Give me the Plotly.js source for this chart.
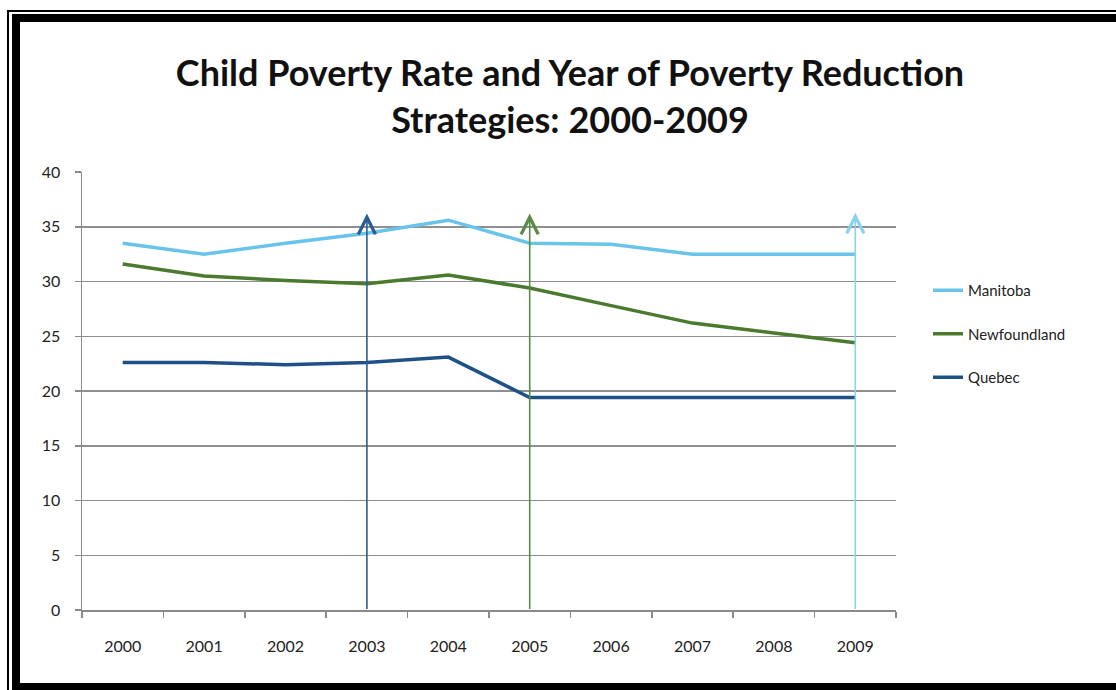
<!DOCTYPE html>
<html>
<head>
<meta charset="utf-8">
<script src="https://cdn.plot.ly/plotly-3.0.1.min.js"></script>
<style>
  html, body { margin: 0; padding: 0; background: #fff; overflow: hidden; }
  #wrap { position: relative; width: 1116px; height: 690px; }
  #chart { position: absolute; left: 0; top: 0; width: 1116px; height: 690px; }
  .frame { position: absolute; pointer-events: none; box-sizing: border-box; }
  #thin { left: 7px; top: 10px; width: 1200px; height: 800px; border-left: 2px solid #000; border-top: 2px solid #000; }
  #thick { left: 12px; top: 14px; width: 1200px; height: 676px; border-left: 8px solid #000; border-top: 8px solid #000; border-bottom: 7px solid #000; }
</style>
</head>
<body>
<div id="wrap">
  <div id="chart"></div>
  <div id="thin" class="frame"></div>
  <div id="thick" class="frame"></div>
</div>
<script>
// ---- data ----
const years = ['2000','2001','2002','2003','2004','2005','2006','2007','2008','2009'];
const manitoba     = [33.5, 32.5, 33.5, 34.4, 35.6, 33.5, 33.4, 32.5, 32.5, 32.5];
const newfoundland = [31.6, 30.5, 30.1, 29.8, 30.6, 29.4, 27.8, 26.2, 25.3, 24.4];
const quebec       = [22.6, 22.6, 22.4, 22.6, 23.1, 19.4, 19.4, 19.4, 19.4, 19.4];
const seriesNames  = ['Manitoba', 'Newfoundland', 'Quebec'];
const strategyYears = ['2003', '2005', '2009'];   // Quebec, Newfoundland, Manitoba
const arrowTop = [36.2, 36.2, 36.3];
const arrowBase = 0;
const yTicks = [0, 5, 10, 15, 20, 25, 30, 35, 40];

const colors = { Manitoba: '#68c4e8', Newfoundland: '#4a7a2e', Quebec: '#1f5188' };
const arrowColors = ['#2c5e92', '#5a8a47', '#8ad2ef'];

const seriesVals = [manitoba, newfoundland, quebec];
const traces = seriesNames.map((n, i) => ({
  type: 'scatter', mode: 'lines', name: n,
  x: years, y: seriesVals[i],
  line: { color: colors[n], width: 3.5 },
  legendgroup: n
}));

const annotations = strategyYears.map((yr, i) => {
  const idx = years.indexOf(yr);
  return {
    x: idx, y: arrowTop[i], ax: idx, ay: arrowBase,
    xref: 'x', yref: 'y', axref: 'x', ayref: 'y',
    text: ' ', font: { size: 1 }, borderpad: 0,
    showarrow: true,
    arrowhead: 5, arrowsize: 2.1, arrowwidth: 1.6,
    arrowcolor: arrowColors[i], standoff: 0, startstandoff: 0
  };
});

const axisFont = { family: 'Lato, "Open Sans", sans-serif', size: 16, color: '#222' };

const layout = {
  width: 1116, height: 690,
  paper_bgcolor: '#fff', plot_bgcolor: '#fff',
  margin: { l: 82, r: 220, t: 172, b: 80 },
  title: {
    text: '<b>Child Poverty Rate and Year of Poverty Reduction<br>Strategies: 2000-2009</b>',
    font: { family: 'Lato, "Open Sans", sans-serif', size: 36, color: '#111' },
    x: 570 / 1116, xanchor: 'center', xref: 'container',
    y: 1 - 86 / 690, yanchor: 'top', yref: 'container'
  },
  xaxis: {
    type: 'category', range: [-0.5, 9.5],
    tickson: 'boundaries', ticks: 'outside', ticklen: 6, tickcolor: '#8a8a8a', tickwidth: 1.5,
    showline: true, linecolor: '#8a8a8a', linewidth: 1.5,
    showgrid: false, zeroline: false,
    tickfont: axisFont, ticklabelstandoff: 21, fixedrange: true
  },
  yaxis: {
    range: [0, 40], tickvals: yTicks,
    ticks: 'outside', ticklen: 6, tickcolor: '#8a8a8a', tickwidth: 1.5,
    showline: true, linecolor: '#8a8a8a', linewidth: 1.5,
    showgrid: true, gridcolor: '#8f8f8f', gridwidth: 1.5,
    zeroline: false, tickfont: axisFont, ticklabelstandoff: 11, fixedrange: true
  },
  legend: {
    x: (928 - 82) / 814, xanchor: 'left',
    y: (610 - 274) / 438, yanchor: 'top',
    font: { family: 'Lato, "Open Sans", sans-serif', size: 15, color: '#222' },
    traceorder: 'grouped', tracegroupgap: 21,
    bgcolor: 'rgba(0,0,0,0)', itemwidth: 30
  },
  showlegend: true,
  annotations: annotations
};

Plotly.newPlot('chart', traces, layout, { displayModeBar: false, staticPlot: true });
</script>
</body>
</html>
